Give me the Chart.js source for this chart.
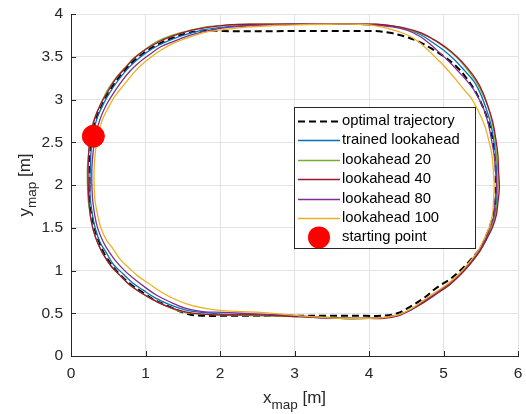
<!DOCTYPE html>
<html lang="en">
<head>
<meta charset="UTF-8">
<title>Trajectories</title>
<script src="https://cdn.jsdelivr.net/npm/chart.js"></script>
<style>
  body { margin: 0; background: #fff; }
</style>
</head>
<body>
<canvas id="trajChart" width="526" height="414"></canvas>
<script>
// axis ticks
const xTicks = [0, 1, 2, 3, 4, 5, 6];
const yTicks = [0, 0.5, 1, 1.5, 2, 2.5, 3, 3.5, 4];

const seriesNames = ['optimal trajectory', 'trained lookahead', 'lookahead 20', 'lookahead 40', 'lookahead 80', 'lookahead 100', 'starting point'];

// optimal trajectory (dashed)
const optimalX = [0.25,0.25,0.26,0.29,0.34,0.42,0.51,0.62,0.74,0.87,1.02,1.18,1.36,1.58,1.82,2.05,3.07,4.08,4.28,4.47,4.66,4.83,5.01,5.17,5.30,5.41,5.50,5.58,5.64,5.68,5.70,5.70,5.70,5.68,5.64,5.58,5.50,5.38,5.25,5.09,4.91,4.74,4.56,4.38,4.17,3.95,3.07,2.05,1.80,1.57,1.29,1.11,0.95,0.80,0.67,0.55,0.45,0.38,0.32,0.28,0.25,0.25];
const optimalY = [2.01,2.20,2.41,2.60,2.78,2.94,3.09,3.23,3.36,3.47,3.57,3.65,3.72,3.78,3.81,3.80,3.80,3.80,3.78,3.74,3.68,3.60,3.50,3.39,3.26,3.12,2.97,2.80,2.62,2.43,2.23,2.04,1.85,1.70,1.56,1.42,1.27,1.14,1.02,0.90,0.80,0.68,0.58,0.50,0.47,0.47,0.47,0.47,0.47,0.49,0.59,0.66,0.75,0.84,0.94,1.06,1.19,1.33,1.48,1.64,1.82,2.01];

// trained lookahead
const trainedX = [0.25,0.26,0.27,0.30,0.35,0.43,0.52,0.63,0.75,0.88,1.03,1.19,1.37,1.58,1.82,2.08,2.40,2.94,3.48,3.88,4.09,4.31,4.51,4.69,4.85,5.01,5.14,5.28,5.41,5.50,5.57,5.63,5.67,5.70,5.71,5.72,5.71,5.69,5.65,5.57,5.48,5.36,5.23,5.08,4.91,4.73,4.56,4.39,4.20,4.00,3.61,3.07,2.54,2.03,1.76,1.53,1.30,1.13,0.97,0.82,0.70,0.57,0.48,0.39,0.33,0.29,0.26,0.25];
const trainedY = [2.01,2.20,2.41,2.60,2.78,2.94,3.08,3.22,3.35,3.46,3.56,3.64,3.71,3.77,3.82,3.85,3.87,3.88,3.88,3.88,3.87,3.86,3.82,3.76,3.67,3.57,3.47,3.34,3.21,3.06,2.90,2.73,2.55,2.35,2.15,1.97,1.79,1.66,1.51,1.37,1.23,1.09,0.96,0.85,0.74,0.64,0.54,0.48,0.45,0.44,0.44,0.46,0.48,0.49,0.51,0.54,0.61,0.68,0.77,0.86,0.96,1.07,1.20,1.33,1.48,1.64,1.83,2.01];

// lookahead 20
const la20X = [0.22,0.22,0.24,0.26,0.32,0.40,0.49,0.60,0.72,0.85,1.00,1.16,1.35,1.57,1.81,2.08,2.40,2.94,3.48,3.88,4.09,4.31,4.51,4.70,4.87,5.03,5.18,5.31,5.43,5.52,5.60,5.65,5.69,5.71,5.73,5.73,5.72,5.70,5.65,5.58,5.49,5.37,5.23,5.09,4.91,4.74,4.56,4.39,4.20,4.00,3.61,3.07,2.54,2.03,1.76,1.52,1.29,1.10,0.94,0.79,0.66,0.54,0.44,0.36,0.30,0.26,0.23,0.22];
const la20Y = [2.01,2.20,2.41,2.61,2.79,2.95,3.11,3.25,3.37,3.49,3.59,3.68,3.75,3.80,3.85,3.87,3.88,3.88,3.88,3.88,3.88,3.86,3.82,3.77,3.70,3.60,3.49,3.36,3.22,3.07,2.91,2.74,2.55,2.35,2.15,1.97,1.79,1.65,1.51,1.37,1.23,1.09,0.96,0.84,0.73,0.63,0.54,0.48,0.45,0.44,0.45,0.46,0.47,0.48,0.49,0.51,0.58,0.66,0.74,0.83,0.94,1.05,1.18,1.32,1.47,1.64,1.83,2.01];

// lookahead 40
const la40X = [0.23,0.23,0.24,0.27,0.32,0.40,0.50,0.60,0.73,0.86,1.01,1.17,1.36,1.57,1.81,2.08,2.40,2.94,3.48,3.88,4.09,4.31,4.51,4.70,4.87,5.03,5.18,5.32,5.44,5.53,5.60,5.66,5.70,5.73,5.74,5.75,5.73,5.71,5.66,5.58,5.49,5.37,5.24,5.09,4.91,4.74,4.56,4.39,4.20,4.00,3.61,3.07,2.54,2.03,1.76,1.52,1.29,1.10,0.94,0.79,0.66,0.54,0.44,0.36,0.30,0.26,0.24,0.23];
const la40Y = [2.01,2.20,2.41,2.61,2.78,2.95,3.10,3.24,3.37,3.49,3.59,3.67,3.74,3.80,3.84,3.87,3.88,3.88,3.88,3.88,3.88,3.86,3.83,3.78,3.70,3.61,3.50,3.37,3.23,3.08,2.91,2.74,2.55,2.35,2.15,1.97,1.79,1.65,1.51,1.37,1.23,1.09,0.96,0.84,0.73,0.63,0.54,0.47,0.44,0.44,0.44,0.46,0.48,0.48,0.49,0.52,0.58,0.66,0.74,0.83,0.94,1.05,1.18,1.32,1.47,1.64,1.83,2.01];

// lookahead 80
const la80X = [0.28,0.28,0.30,0.33,0.39,0.47,0.56,0.67,0.79,0.91,1.06,1.21,1.38,1.59,1.82,2.08,2.40,2.94,3.48,3.88,4.09,4.31,4.51,4.68,4.83,4.98,5.09,5.23,5.36,5.45,5.54,5.60,5.64,5.68,5.70,5.71,5.69,5.68,5.63,5.57,5.48,5.36,5.23,5.08,4.91,4.73,4.56,4.39,4.20,4.00,3.61,3.07,2.54,2.03,1.77,1.53,1.31,1.15,1.00,0.85,0.73,0.61,0.51,0.43,0.36,0.32,0.29,0.28];
const la80Y = [2.01,2.20,2.41,2.59,2.77,2.93,3.06,3.20,3.33,3.43,3.53,3.62,3.68,3.75,3.80,3.84,3.86,3.88,3.88,3.88,3.87,3.85,3.81,3.74,3.64,3.52,3.43,3.30,3.17,3.05,2.89,2.72,2.55,2.35,2.15,1.97,1.79,1.66,1.52,1.38,1.24,1.10,0.97,0.85,0.74,0.64,0.54,0.48,0.45,0.44,0.44,0.47,0.49,0.51,0.52,0.56,0.64,0.71,0.80,0.90,0.99,1.10,1.22,1.34,1.49,1.64,1.83,2.01];

// lookahead 100
const la100X = [0.31,0.31,0.33,0.36,0.42,0.51,0.59,0.71,0.83,0.94,1.08,1.23,1.38,1.59,1.83,2.08,2.40,2.94,3.48,3.88,4.09,4.30,4.50,4.64,4.79,4.93,5.02,5.15,5.28,5.37,5.47,5.55,5.60,5.65,5.67,5.68,5.67,5.66,5.62,5.55,5.47,5.35,5.22,5.08,4.90,4.73,4.56,4.39,4.20,4.00,3.61,3.07,2.54,2.03,1.78,1.55,1.33,1.19,1.04,0.89,0.79,0.66,0.56,0.48,0.40,0.36,0.32,0.31];
const la100Y = [2.01,2.20,2.41,2.58,2.76,2.92,3.04,3.17,3.30,3.40,3.50,3.59,3.66,3.73,3.79,3.82,3.85,3.87,3.88,3.88,3.86,3.82,3.76,3.69,3.58,3.46,3.38,3.25,3.11,3.02,2.86,2.70,2.55,2.35,2.15,1.97,1.79,1.67,1.52,1.38,1.24,1.10,0.97,0.86,0.75,0.65,0.55,0.48,0.45,0.44,0.44,0.47,0.51,0.53,0.56,0.61,0.69,0.76,0.85,0.94,1.02,1.13,1.26,1.35,1.50,1.64,1.83,2.01];

const startX = [0.30];
const startY = [2.57];

const FONT = '"Liberation Sans", Arial, Helvetica, sans-serif';
const AXIS_COLOR = '#262626';

function toPoints(xs, ys) {
    return xs.map((x, i) => ({ x: x, y: ys[i] }));
}

function lineSet(i, xs, ys, color, width, dash) {
    return {
        label: seriesNames[i],
        data: toPoints(xs, ys),
        showLine: true,
        borderColor: color,
        backgroundColor: color,
        borderWidth: width,
        borderDash: dash || [],
        pointRadius: 0,
        tension: 0.35,
        order: 10 - i
    };
}

const datasets = [
    lineSet(0, optimalX, optimalY, '#000000', 2, [7, 4]),
    lineSet(1, trainedX, trainedY, '#0072BD', 1.3),
    lineSet(2, la20X, la20Y, '#77AC30', 1.3),
    lineSet(3, la40X, la40Y, '#A2142F', 1.3),
    lineSet(4, la80X, la80Y, '#7E2F8E', 1.3),
    lineSet(5, la100X, la100Y, '#EDB120', 1.3),
    {
        label: seriesNames[6],
        data: toPoints(startX, startY),
        showLine: false,
        pointRadius: 11,
        pointBackgroundColor: '#FF0000',
        pointBorderColor: '#FF0000',
        pointBorderWidth: 1,
        order: 0
    }
];

// matlab style: ticks pointing into the axes
const innerTicks = {
    id: 'innerTicks',
    afterDraw(chart) {
        const ctx = chart.ctx, a = chart.chartArea;
        const xs = chart.scales.x, ys = chart.scales.y;
        ctx.save();
        ctx.strokeStyle = AXIS_COLOR;
        ctx.lineWidth = 1;
        ctx.beginPath();
        xTicks.forEach(v => {
            const px = Math.round(xs.getPixelForValue(v)) + 0.5;
            ctx.moveTo(px, a.bottom);
            ctx.lineTo(px, a.bottom - 5);
        });
        yTicks.forEach(v => {
            const py = Math.round(ys.getPixelForValue(v)) + 0.5;
            ctx.moveTo(a.left, py);
            ctx.lineTo(a.left + 5, py);
        });
        ctx.stroke();
        ctx.restore();
    }
};

// axis titles with subscript
function drawSubTitle(ctx, main, sub, tail, cx, baseline) {
    const mainFont = '17px ' + FONT, subFont = '13.5px ' + FONT;
    ctx.font = mainFont;
    const w1 = ctx.measureText(main).width;
    const w3 = ctx.measureText(tail).width;
    ctx.font = subFont;
    const w2 = ctx.measureText(sub).width;
    let x = cx - (w1 + w2 + w3) / 2;
    ctx.textBaseline = 'alphabetic';
    ctx.textAlign = 'left';
    ctx.font = mainFont;
    ctx.fillText(main, x, baseline);
    x += w1;
    ctx.font = subFont;
    ctx.fillText(sub, x, baseline + 6);
    x += w2;
    ctx.font = mainFont;
    ctx.fillText(tail, x, baseline);
}

const axisTitles = {
    id: 'axisTitles',
    afterDraw(chart) {
        const ctx = chart.ctx, a = chart.chartArea;
        ctx.save();
        ctx.fillStyle = AXIS_COLOR;
        drawSubTitle(ctx, 'x', 'map', ' [m]', (a.left + a.right) / 2, 403);
        ctx.translate(30, (a.top + a.bottom) / 2);
        ctx.rotate(-Math.PI / 2);
        drawSubTitle(ctx, 'y', 'map', ' [m]', 0, 0);
        ctx.restore();
    }
};

// boxed legend inside the axes
const boxLegend = {
    id: 'boxLegend',
    afterDraw(chart) {
        const ctx = chart.ctx;
        const left = 294, top = 107, right = 475, bottom = 248;
        ctx.save();
        ctx.fillStyle = '#ffffff';
        ctx.fillRect(left, top, right - left, bottom - top);
        ctx.strokeStyle = AXIS_COLOR;
        ctx.lineWidth = 1;
        ctx.strokeRect(left + 0.5, top + 0.5, right - left, bottom - top);
        ctx.font = '14.8px ' + FONT;
        ctx.textBaseline = 'middle';
        ctx.textAlign = 'left';
        chart.data.datasets.forEach((ds, i) => {
            const y = 121 + i * 19.4;
            if (ds.showLine) {
                ctx.beginPath();
                ctx.strokeStyle = ds.borderColor;
                ctx.lineWidth = ds.borderWidth;
                ctx.setLineDash(ds.borderDash);
                ctx.moveTo(298, Math.round(y) + 0.5);
                ctx.lineTo(340, Math.round(y) + 0.5);
                ctx.stroke();
                ctx.setLineDash([]);
            } else {
                ctx.beginPath();
                ctx.fillStyle = ds.pointBackgroundColor;
                ctx.arc(319, y, 11, 0, Math.PI * 2);
                ctx.fill();
            }
            ctx.fillStyle = '#000000';
            ctx.fillText(ds.label, 342, y);
        });
        ctx.restore();
    }
};

function noPad(s) {
    s.paddingLeft = 0;
    s.paddingRight = 0;
    s.paddingTop = 0;
    s.paddingBottom = 0;
}

const ctx = document.getElementById('trajChart').getContext('2d');
new Chart(ctx, {
    type: 'scatter',
    data: { datasets: datasets },
    options: {
        responsive: false,
        animation: false,
        layout: { autoPadding: false, padding: { top: 14, right: 8, left: 0, bottom: 0 } },
        plugins: {
            legend: { display: false },
            tooltip: { enabled: false }
        },
        scales: {
            x: {
                type: 'linear',
                min: 0,
                max: 6,
                afterBuildTicks: s => { s.ticks = xTicks.map(v => ({ value: v })); },
                afterFit: s => { s.height = 58; noPad(s); },
                ticks: { font: { family: FONT, size: 15.5 }, color: AXIS_COLOR, padding: 8, maxRotation: 0, callback: v => String(v) },
                grid: { color: '#e3e3e3', drawTicks: false },
                border: { color: AXIS_COLOR, width: 1 }
            },
            y: {
                type: 'linear',
                min: 0,
                max: 4,
                afterBuildTicks: s => { s.ticks = yTicks.map(v => ({ value: v })); },
                afterFit: s => { s.width = 71; noPad(s); },
                ticks: { font: { family: FONT, size: 15.5 }, color: AXIS_COLOR, padding: 8, callback: v => String(v) },
                grid: { color: '#e3e3e3', drawTicks: false },
                border: { color: AXIS_COLOR, width: 1 }
            }
        }
    },
    plugins: [innerTicks, axisTitles, boxLegend]
});
</script>
</body>
</html>
